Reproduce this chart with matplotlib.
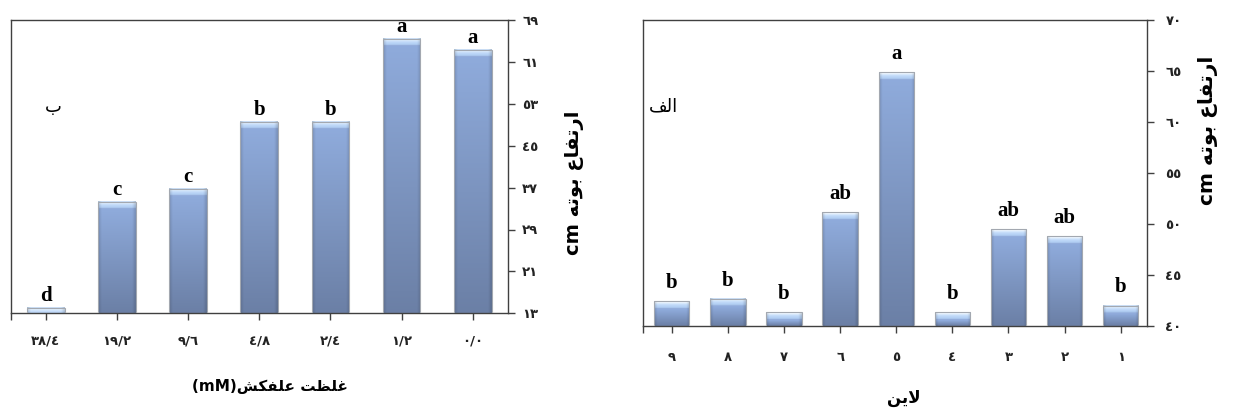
import numpy as np
import matplotlib
matplotlib.use("Agg")
import matplotlib.pyplot as plt

plt.rcParams['font.family'] = ['DejaVu Sans']

# ---------------- data ----------------
# Panel "ب" (left): herbicide concentration (mM)
conc_labels = ["٣٨/٤", "١٩/٢", "٩/٦", "٤/٨", "٢/٤", "١/٢", "٠/٠"]
conc_heights = [14.0, 34.3, 36.7, 49.6, 49.6, 65.4, 63.3]
conc_letters = ["d", "c", "c", "b", "b", "a", "a"]
conc_yticks = [13, 21, 29, 37, 45, 53, 61, 69]
conc_yticklabels = ["١٣", "٢١", "٢٩", "٣٧", "٤٥", "٥٣", "٦١", "٦٩"]

# Panel "الف" (right): lines
line_labels = ["٩", "٨", "٧", "٦", "٥", "٤", "٣", "٢", "١"]
line_heights = [42.45, 42.65, 41.35, 51.15, 64.9, 41.35, 49.5, 48.8, 42.0]
line_letters = ["b", "b", "b", "ab", "a", "b", "ab", "ab", "b"]
line_yticks = [40, 45, 50, 55, 60, 65, 70]
line_yticklabels = ["٤٠", "٤٥", "٥٠", "٥٥", "٦٠", "٦٥", "٧٠"]

# Arabic/Persian text in visual order with presentation forms
ylabel_txt = "cm " + "\uFEEA\uFE97\uFEEE\uFE91" + " " + "\uFEC9\uFE8E\uFED4\uFE97\uFEAD\uFE8D"   # ارتفاع بوته cm
xlabel_left = "(mM)" + "\uFEB6\uFEDC\uFED4\uFEE0\uFECB" + " " + "\uFE96\uFEC8\uFEE0\uFECF"      # غلظت علفکش(mM)
xlabel_right = "\uFEE6\uFEF3\uFEFB"                                                            # لاین
panel_left = "\uFE8F"                                                                          # ب
panel_right = "\uFED2\uFEDF\uFE8D"                                                             # الف

W, H = 1233, 412
fig = plt.figure(figsize=(W / 100, H / 100), dpi=100)
fig.patch.set_facecolor('white')


def px_axes(x0, x1, ytop, ybot):
    return fig.add_axes([x0 / W, 1 - ybot / H, (x1 - x0) / W, (ybot - ytop) / H])


ax1 = px_axes(11, 508.3, 20, 313.3)
ax2 = px_axes(643.3, 1147.3, 20, 326)

cap_rows = np.array([
    [0.80, 0.88, 0.97],
    [0.92, 0.96, 1.00],
    [0.84, 0.91, 0.99],
    [0.78, 0.87, 0.98],
    [0.74, 0.84, 0.97],
    [0.71, 0.82, 0.96],
    [0.67, 0.78, 0.93],
    [0.58, 0.68, 0.86],
])
body_top = np.array([0.56, 0.67, 0.86])
body_bot = np.array([0.42, 0.50, 0.65])


def bar_image(h_px):
    n = max(int(round(h_px)), 2)
    img = np.zeros((n, 24, 3))
    ncap = min(len(cap_rows), n)
    for r in range(n):
        if r < ncap:
            c = cap_rows[r]
        else:
            t = (r - ncap) / max(n - ncap - 1, 1)
            c = body_top * (1 - t) + body_bot * t
        img[r, :, :] = c
    cols = np.ones(24)
    cols[0] = cols[-1] = 0.86
    cols[1] = cols[-2] = 0.94
    img = img * cols[None, :, None]
    return np.clip(img, 0, 1)


def draw_panel(ax, labels, heights, letters, yticks, yticklabels, ymin, ymax,
               width, xlim, letter_off, xpad, ypad):
    x = np.arange(len(labels))
    ax.set_xlim(*xlim)
    ax.set_ylim(ymin, ymax)
    vals = np.array(heights)
    bars = ax.bar(x, vals - ymin, bottom=ymin, width=width, color='none',
                  edgecolor='#a3a8b0', linewidth=0.8, zorder=3)
    p0 = ax.transData.transform((0, ymin))[1]
    p1 = ax.transData.transform((0, ymax))[1]
    ppu = (p1 - p0) / (ymax - ymin)
    for b in bars:
        bx, by, bw, bh = b.get_x(), b.get_y(), b.get_width(), b.get_height()
        img = bar_image(bh * ppu)
        ax.imshow(img, extent=(bx, bx + bw, by, by + bh), aspect='auto',
                  origin='upper', interpolation='bilinear', zorder=2)
    ax.set_xlim(*xlim)
    ax.set_ylim(ymin, ymax)
    for xi, v, let in zip(x, vals, letters):
        ax.annotate(let, (xi, v), xytext=(0, letter_off), textcoords='offset points',
                    ha='center', va='baseline', fontsize=15, fontweight='bold',
                    family=['Liberation Serif', 'DejaVu Serif'], color='black', zorder=5)
    ax.set_xticks(x)
    ax.set_xticklabels(labels, fontsize=9.5, fontweight='bold', color='#222222')
    ax.set_xticks([xlim[0]], minor=True)
    ax.yaxis.tick_right()
    ax.set_yticks(yticks)
    ax.set_yticklabels(yticklabels, fontsize=9.5, fontweight='bold', color='#222222')
    ax.tick_params(axis='x', which='both', direction='out', length=5, width=1,
                   color='#404040', pad=xpad)
    ax.tick_params(axis='y', direction='out', length=5, width=1, color='#404040',
                   pad=ypad, left=False, right=True)
    for s in ax.spines.values():
        s.set_color('#404040')
        s.set_linewidth(1.0)
    ax.set_facecolor('white')


draw_panel(ax1, conc_labels, conc_heights, conc_letters, conc_yticks, conc_yticklabels,
           13, 69, 0.53, (-0.487, 6.5), 5, 10, 5)
draw_panel(ax2, line_labels, line_heights, line_letters, line_yticks, line_yticklabels,
           40, 70, 0.63, (-0.506, 8.474), 9.5, 13, 8)

# axis titles
fig.text(575 / W, 1 - 183 / H, ylabel_txt, rotation=90, ha='center', va='center',
         fontsize=14, fontweight='bold')
fig.text(1208 / W, 1 - 130 / H, ylabel_txt, rotation=90, ha='center', va='center',
         fontsize=14.5, fontweight='bold')
fig.text(270 / W, 1 - 387 / H, xlabel_left, ha='center', va='center',
         fontsize=11, fontweight='bold')
fig.text(904 / W, 1 - 398 / H, xlabel_right, ha='center', va='center',
         fontsize=12, fontweight='bold')

# panel labels
fig.text(53 / W, 1 - 107 / H, panel_left, ha='center', va='center', fontsize=13)
fig.text(663 / W, 1 - 106 / H, panel_right, ha='center', va='center', fontsize=13)

fig.savefig('out.png', dpi=100, facecolor='white')
